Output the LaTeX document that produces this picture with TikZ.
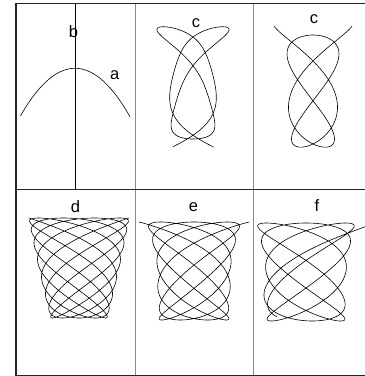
\documentclass[tikz,border=0pt]{standalone}
\usepackage{fontspec}
\setmainfont{Liberation Sans}
\begin{document}
\begin{tikzpicture}[x=1pt,y=-1pt,
  lbl/.style={font=\fontsize{16.5}{19}\selectfont, inner sep=0pt, anchor=base},
  curve/.style={line width=0.6pt, line join=round},
  frame/.style={line width=1.1pt, black!85},
  divider/.style={line width=0.8pt, black!45},
  declare function={
    mtwo(\s)=1+0.21*(abs(\s)/5.95)^6;
    Atwo(\s)=27.5+8.5*cos(2*(abs(\s)-2.83) r);
    mthree(\s)=1+0.18*(abs(\s)/6.11)^6;
    mxthree(\s)=1+0.45*(abs(\s)/6.11)^6;
    Athree(\s)=24+3*cos(\s r);
    Wd(\u)=40+11*\u-1*\u*\u;
    We(\u)=36+6*\u+5*\u*\u;
    mxe(\s)=1+0.18*(abs(\s)/12.566)^8;
    Wf(\u)=40+5*\u+4*\u*\u;
    mxf(\s)=1+0.3*(max(\s,0)/12.18)^8;
  }]
\useasboundingbox (0,0) rectangle (365,376);
% grid
\draw[divider] (135.3,3.5) -- (135.3,375.5);
\draw[divider] (253.7,3.5) -- (253.7,375.5);
\draw[frame] (16,189.7) -- (368,189.7);
\draw[frame] (368,3.5) -- (16,3.5) -- (16,375.5) -- (368,375.5);
% panel a/b
\draw[line width=0.6pt] (75.5,3.5) -- (75.5,189.7);
\draw[curve,domain=-54.5:55,samples=80] plot ({75+\x},{68.3+0.016*\x*\x});
\node[lbl] (lb) at (73.5,37) {b};
\node[lbl] (la) at (114.7,79.3) {a};
% panel c (middle)
\draw[curve,domain=-5.95:5.95,samples=500] plot ({193+Atwo(\x)*mtwo(\x)*sin(1.667*\x r)},{83+56*mtwo(\x)*cos(\x r)});
\node[lbl] (lc1) at (196,27.3) {c};
% panel c (right)
\draw[curve,domain=-6.11:6.11,samples=500] plot ({313+Athree(\x)*mxthree(\x)*sin(1.8*\x r)},{91-56*mthree(\x)*cos(\x r)});
\node[lbl] (lc2) at (314,23.3) {c};
% panel d
\draw[curve,domain=-18.5:18.5,samples=1400] plot ({79+Wd(-cos(\x r))*sin(1.7*\x r)},{268+50*cos(\x r)});
\node[lbl] (ld) at (75.5,212.7) {d};
% panel e
\draw[curve,domain=-12.566:12.566,samples=1000] plot ({194+We(cos(\x r))*mxe(\x)*sin(1.625*\x r)},{271-49*cos(\x r)});
\node[lbl] (le) at (193.5,211.7) {e};
% panel f
\draw[curve,domain=-9:12.18,samples=1000] plot ({306+Wf(cos(\x r))*mxf(\x)*sin(1.65*\x r)},{272-49*cos(\x r)});
\node[lbl] (lf) at (317,211.7) {f};
\end{tikzpicture}
\end{document}
